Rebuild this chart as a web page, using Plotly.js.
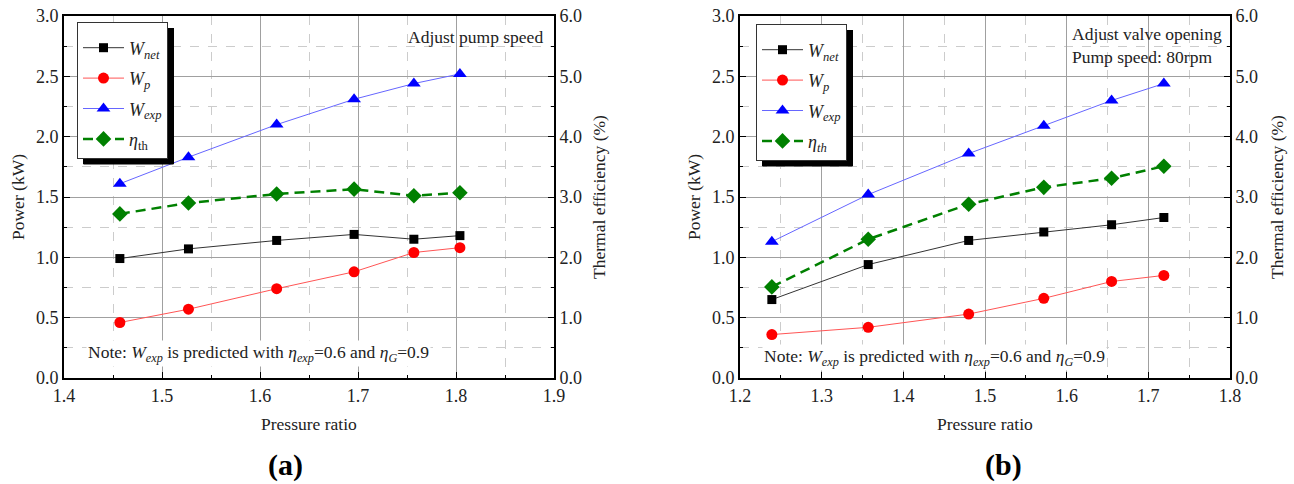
<!DOCTYPE html>
<html><head><meta charset="utf-8">
<script src="https://cdn.plot.ly/plotly-3.0.1.min.js"></script>
<style>html,body{margin:0;padding:0;background:#fff}#chart{width:1294px;height:484px}</style>
</head><body><div id="chart"></div>
<script>
// Panel (a): adjust pump speed
const prA = [1.457, 1.527, 1.617, 1.696, 1.757, 1.804];
const wnetA = [0.99, 1.07, 1.14, 1.19, 1.15, 1.18];
const wpA = [0.46, 0.57, 0.74, 0.88, 1.04, 1.08];
const wexpA = [1.61, 1.83, 2.10, 2.31, 2.44, 2.52];
const etaA = [2.72, 2.90, 3.05, 3.13, 3.02, 3.07];
// Panel (b): adjust valve opening, pump speed 80 rpm
const prB = [1.239, 1.357, 1.480, 1.572, 1.655, 1.719];
const wnetB = [0.65, 0.94, 1.14, 1.21, 1.27, 1.33];
const wpB = [0.36, 0.42, 0.53, 0.66, 0.80, 0.85];
const wexpB = [1.13, 1.52, 1.86, 2.09, 2.30, 2.44];
const etaB = [1.51, 2.30, 2.88, 3.16, 3.31, 3.51];

const W = 1294, H = 484;
const px = v => v / W, py = v => 1 - v / H;
const serif = "Liberation Serif";

function mk(x, y, name, color, lineColor, symbol, size, xa, ya, leg, grp, dash, lw) {
  return {x: x, y: y, name: name, type: 'scatter', mode: 'lines+markers', xaxis: xa, yaxis: ya, legend: leg,
    legendgroup: grp, line: {color: lineColor, width: lw || 1, dash: dash || 'solid'},
    marker: {color: color, symbol: symbol, size: size}};
}
const nWnet = '<i>W</i><sub><i>net</i></sub>';
const nWp = '<i>W</i><sub><i>p</i></sub>';
const nWexp = '<i>W</i><sub><i>exp</i></sub>';
const traces = [
  mk(prA, wnetA, nWnet, '#000', '#333', 'square', 9, 'x', 'y', 'legend', 'a1'),
  mk(prA, wpA, nWp, '#ff0000', '#ff5555', 'circle', 11, 'x', 'y', 'legend', 'a2'),
  mk(prA, wexpA, nWexp, '#0000ff', '#6666ff', 'triangle-up', 12, 'x', 'y', 'legend', 'a3'),
  mk(prA, etaA, '<i>η</i><sub>th</sub>', '#008000', '#008000', 'diamond', 12, 'x', 'y2', 'legend', 'a4', '10px,6px', 2.5),
  mk(prB, wnetB, nWnet, '#000', '#333', 'square', 9, 'x2', 'y3', 'legend2', 'b1'),
  mk(prB, wpB, nWp, '#ff0000', '#ff5555', 'circle', 11, 'x2', 'y3', 'legend2', 'b2'),
  mk(prB, wexpB, nWexp, '#0000ff', '#6666ff', 'triangle-up', 12, 'x2', 'y3', 'legend2', 'b3'),
  mk(prB, etaB, '<i>η</i><sub><i>th</i></sub>', '#008000', '#008000', 'diamond', 12, 'x2', 'y4', 'legend2', 'b4', '10px,6px', 2.5)
];

const tickFont = {family: serif, size: 18, color: '#222'};
const yDom = [py(378), py(16)];
function xAxis(dom, range, anchor) {
  return {domain: dom, range: range, anchor: anchor, dtick: 0.1, tickformat: '.1f', showgrid: true,
    gridcolor: '#a0a0a0', gridwidth: 1, zeroline: false, showline: true, linecolor: '#000', linewidth: 2, mirror: true,
    ticks: 'inside', ticklen: 6, tickcolor: '#000', tickfont: tickFont, automargin: false,
    minor: {dtick: 0.05, showgrid: true, griddash: 'dash', gridcolor: '#cccccc', ticks: 'inside', ticklen: 3, tickcolor: '#000'}};
}
function yAxis(anchor) {
  return {domain: yDom, range: [0, 3], anchor: anchor, dtick: 0.5, tickformat: '.1f', showgrid: true,
    gridcolor: '#a0a0a0', zeroline: false, showline: true, linecolor: '#000', linewidth: 2,
    ticks: 'inside', ticklen: 6, tickcolor: '#000', tickfont: tickFont, automargin: false,
    minor: {dtick: 0.25, showgrid: true, griddash: 'dash', gridcolor: '#cccccc', ticks: 'inside', ticklen: 3, tickcolor: '#000'}};
}
function y2Axis(over, anchor) {
  return {overlaying: over, anchor: anchor, side: 'right', range: [0, 6], dtick: 1, tickformat: '.1f', showgrid: false,
    zeroline: false, showline: true, linecolor: '#000', linewidth: 2, ticks: 'inside', ticklen: 6, tickcolor: '#000',
    tickfont: tickFont, automargin: false, minor: {dtick: 0.5, ticks: 'inside', ticklen: 3, tickcolor: '#000', showgrid: false}};
}

const ann = [];
function t(text, x, y, opts) {
  ann.push(Object.assign({text: text, xref: 'paper', yref: 'paper', x: px(x), y: py(y), showarrow: false,
    font: {family: serif, size: 17.5, color: '#222'}, xanchor: 'center', yanchor: 'middle'}, opts || {}));
}
t('Pressure ratio', 309, 424);
t('Pressure ratio', 985, 424);
t('<b>(a)</b>', 285, 465, {font: {family: serif, size: 30, color: '#000'}});
t('<b>(b)</b>', 1003, 465, {font: {family: serif, size: 30, color: '#000'}});
t('Power (kW)', 18, 197, {textangle: -90});
t('Power (kW)', 694, 197, {textangle: -90});
t('Thermal efficiency (%)', 599, 197, {textangle: -90});
t('Thermal efficiency (%)', 1277, 197, {textangle: -90});
t('Adjust pump speed', 545, 37, {xanchor: 'right'});
t('Adjust valve opening<br>Pump speed: 80rpm', 1070, 22, {xanchor: 'left', yanchor: 'top', align: 'left'});
const note = 'Note: <i>W</i><sub><i>exp</i></sub> is predicted with <i>η</i><sub><i>exp</i></sub>=0.6 and <i>η</i><sub><i>G</i></sub>=0.9';
t(note, 86, 353, {xanchor: 'left', bgcolor: '#fff'});
t(note, 762, 357, {xanchor: 'left', bgcolor: '#fff'});

const legCommon = {bgcolor: '#fff', bordercolor: '#333', borderwidth: 1, xanchor: 'left', yanchor: 'top',
  font: {family: serif, size: 18, color: '#222'}, tracegroupgap: 4, itemwidth: 41,
  title: {text: '&nbsp;', font: {size: 5}}};

// drop shadows beside and below the two legend boxes (legend box: 90 x 136 px)
function shadow(l, tp, w, h) {
  const o = 6;
  return {type: 'rect', xref: 'paper', yref: 'paper', x0: px(l + o), x1: px(l + w + o), y0: py(tp + h + o), y1: py(tp + o),
    fillcolor: '#000', line: {width: 0}, layer: 'above'};
}

const layout = {
  width: W, height: H, margin: {l: 0, r: 0, t: 0, b: 0}, paper_bgcolor: '#fff', plot_bgcolor: '#fff',
  showlegend: true,
  xaxis: xAxis([px(64), px(554)], [1.4, 1.9], 'y'),
  yaxis: yAxis('x'),
  yaxis2: y2Axis('y', 'x'),
  xaxis2: xAxis([px(740), px(1230)], [1.2, 1.8], 'y3'),
  yaxis3: yAxis('x2'),
  yaxis4: y2Axis('y3', 'x2'),
  legend: Object.assign({x: px(77), y: py(22)}, legCommon),
  legend2: Object.assign({x: px(756), y: py(24)}, legCommon),
  shapes: [shadow(77, 22, 91, 136), shadow(756, 24, 91, 136)],
  annotations: ann
};
const gd = document.getElementById('chart');
Plotly.newPlot(gd, traces, layout, {displayModeBar: false, staticPlot: true});

// keep each legend box on top of its shadow: put a shadow rect right under the legend, at the very top of the figure
try {
  const ns = 'http://www.w3.org/2000/svg';
  gd.querySelectorAll('.infolayer > g.legend, .infolayer > g.legend2').forEach(function (g) {
    const svg = g.ownerSVGElement;
    const sr = svg.getBoundingClientRect();
    const bg = g.querySelector('rect.bg');
    if (!bg) return;
    const r = bg.getBoundingClientRect();
    const rect = document.createElementNS(ns, 'rect');
    rect.setAttribute('x', r.left - sr.left + 6);
    rect.setAttribute('y', r.top - sr.top + 6);
    rect.setAttribute('width', r.width);
    rect.setAttribute('height', r.height);
    rect.setAttribute('fill', '#000');
    svg.appendChild(rect);
    svg.appendChild(g);
  });
} catch (e) {}
</script></body></html>
